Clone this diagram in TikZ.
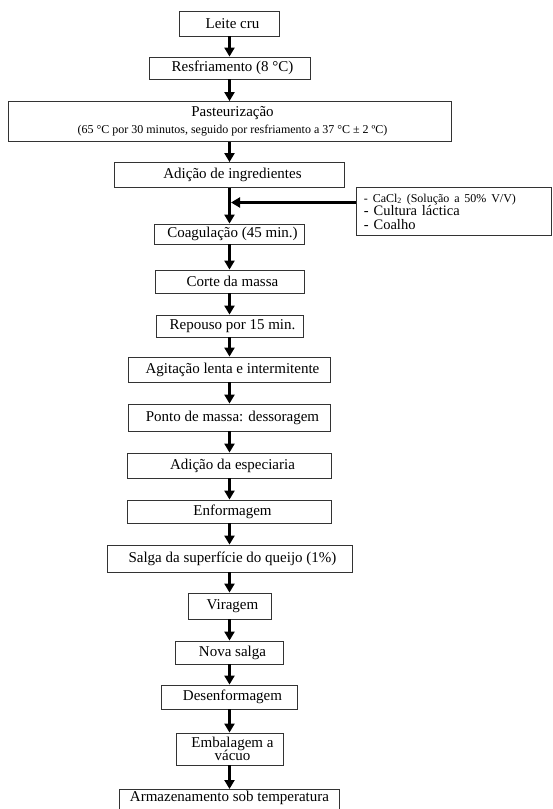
\documentclass[tikz,border=0pt]{standalone}
\usepackage{fontspec}
\setmainfont{Liberation Serif}
\usetikzlibrary{arrows.meta}

\begin{document}
\begin{tikzpicture}[x=1pt, y=-1pt,
    caixa/.style={draw=black!80, line width=0.9pt, rectangle, inner sep=2pt,
        font=\fontsize{15}{14.5}\selectfont},
    etapa/.style={caixa, execute at begin node={\hspace*{6pt}}},
    lateral/.style={caixa, inner xsep=7.5pt, text width=180pt, align=left,
        font=\fontsize{14.5}{13.5}\selectfont},
    seta/.style={draw, -{Triangle[length=9pt, width=10pt]}, line width=2.2pt},
]
    \useasboundingbox (0,0) rectangle (553,809);
    \node[etapa, minimum width=100, minimum height=25] (1) at (229.5,23.5) {Leite cru};
    \node[etapa, minimum width=161, minimum height=22] (2) at (229.5,68) {Resfriamento (8 °C)};
    \node[etapa, minimum width=443, minimum height=40, align=center] (3) at (229.5,121.5)
        {Pasteurização\\[2.5pt]{\fontsize{12}{14}\selectfont (65 °C por 30 minutos, seguido por resfriamento a 37 °C ± 2 ºC)}};
    \node[etapa, minimum width=230, minimum height=25] (4) at (229.5,175) {Adição de ingredientes};
    \node[etapa, minimum width=150, minimum height=20] (5) at (229.5,234) {Coagulação (45 min.)};
    \node[etapa, minimum width=149, minimum height=23] (6) at (229.5,281.5) {Corte da massa};
    \node[etapa, minimum width=147, minimum height=22] (7) at (229.5,326) {Repouso por 15 min.};
    \node[etapa, minimum width=202, minimum height=25] (8) at (229.5,369.5) {Agitação lenta e intermitente};
    \node[etapa, minimum width=202, minimum height=27] (9) at (229.5,417.5) {Ponto de massa: dessoragem};
    \node[etapa, minimum width=204, minimum height=25] (10) at (229.5,465.5) {Adição da especiaria};
    \node[etapa, minimum width=204, minimum height=23] (11) at (229.5,511.5) {Enformagem};
    \node[etapa, minimum width=245, minimum height=27] (12) at (229.5,558.5) {Salga da superfície do queijo (1\%)};
    \node[etapa, minimum width=83, minimum height=26] (13) at (229.5,606) {Viragem};
    \node[etapa, minimum width=108, minimum height=23] (14) at (229.5,652.5) {Nova salga};
    \node[etapa, minimum width=136, minimum height=24] (15) at (229.5,697) {Desenformagem};
    \node[etapa, minimum width=107, minimum height=32, align=center] (16) at (229.5,749) {Embalagem a\\[-1pt]vácuo};
    \node[caixa, minimum width=220, text depth=16pt, anchor=north] (17) at (229.5,789) {Armazenamento sob temperatura};
    \node[lateral, minimum height=48, anchor=north west] (aditivos) at (356,187)
        {{\fontsize{12}{13.5}\selectfont - CaCl\textsubscript{2} (Solução a 50\% V/V)}\\- Cultura láctica\\- Coalho};
    \coordinate (juncao) at (231,202.5);
    \path
    (1) edge[seta] (2)
    (2) edge[seta] (3)
    (3) edge[seta] (4)
    (4) edge[seta] (5)
    (5) edge[seta] (6)
    (6) edge[seta] (7)
    (7) edge[seta] (8)
    (8) edge[seta] (9)
    (9) edge[seta] (10)
    (10) edge[seta] (11)
    (11) edge[seta] (12)
    (12) edge[seta] (13)
    (13) edge[seta] (14)
    (14) edge[seta] (15)
    (15) edge[seta] (16)
    (16) edge[seta] (17)
    (aditivos.west |- juncao) edge[seta] (juncao)
;

\end{tikzpicture}
\end{document}
